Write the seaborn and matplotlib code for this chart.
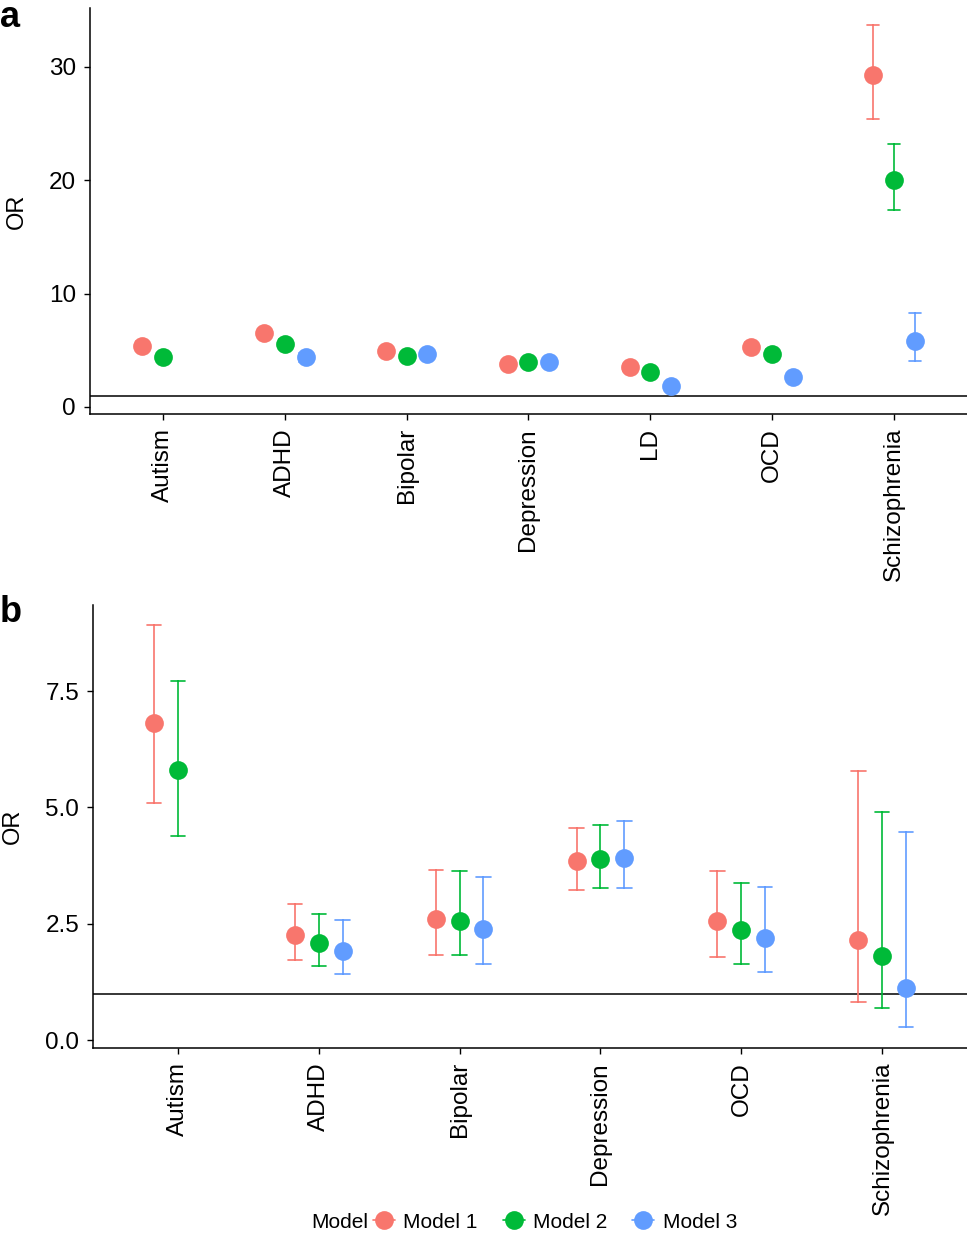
"""
Odds ratios by disorder for three models (panels a and b).
"""

import numpy as np
import pandas as pd
import matplotlib
matplotlib.use("Agg")
import matplotlib.pyplot as plt
from matplotlib.lines import Line2D
import seaborn as sns

# ---- data -------------------------------------------------------------
models = ["Model 1", "Model 2", "Model 3"]
colors = ["#F8766D", "#00BA38", "#619CFF"]

# panel a
disorders_a = ["Autism", "ADHD", "Bipolar", "Depression", "LD", "OCD", "Schizophrenia"]
or_a_m1 = [5.4, 6.5, 4.9, 3.8, 3.5, 5.3, 29.3]
lo_a_m1 = [5.0, 6.1, 4.6, 3.6, 3.2, 4.9, 25.4]
hi_a_m1 = [5.8, 6.9, 5.3, 4.0, 3.8, 5.7, 33.7]
or_a_m2 = [4.4, 5.6, 4.5, 3.95, 3.1, 4.7, 20.0]
lo_a_m2 = [4.1, 5.2, 4.2, 3.75, 2.8, 4.3, 17.4]
hi_a_m2 = [4.7, 6.0, 4.8, 4.15, 3.4, 5.1, 23.2]
or_a_m3 = [np.nan, 4.4, 4.7, 3.95, 1.85, 2.65, 5.8]
lo_a_m3 = [np.nan, 4.0, 4.4, 3.75, 1.6, 2.3, 4.1]
hi_a_m3 = [np.nan, 4.8, 5.0, 4.15, 2.1, 3.0, 8.3]

# panel b
disorders_b = ["Autism", "ADHD", "Bipolar", "Depression", "OCD", "Schizophrenia"]
or_b_m1 = [6.82, 2.26, 2.60, 3.85, 2.56, 2.15]
lo_b_m1 = [5.10, 1.72, 1.83, 3.23, 1.78, 0.82]
hi_b_m1 = [8.92, 2.92, 3.66, 4.56, 3.63, 5.78]
or_b_m2 = [5.81, 2.09, 2.56, 3.89, 2.37, 1.81]
lo_b_m2 = [4.39, 1.59, 1.83, 3.27, 1.63, 0.69]
hi_b_m2 = [7.72, 2.71, 3.63, 4.62, 3.38, 4.90]
or_b_m3 = [np.nan, 1.91, 2.39, 3.91, 2.19, 1.12]
lo_b_m3 = [np.nan, 1.42, 1.63, 3.27, 1.46, 0.28]
hi_b_m3 = [np.nan, 2.58, 3.50, 4.71, 3.29, 4.47]


def long_frame(disorders, series):
    """Three rows (lo, OR, hi) per disorder/model so that median = OR and
    min/max = confidence interval."""
    rows = []
    for model, (ors, los, his) in zip(models, series):
        for d, o, l, h in zip(disorders, ors, los, his):
            if np.isnan(o):
                continue
            for v in (l, o, h):
                rows.append({"Disorder": d, "Model": model, "OR": v})
    return pd.DataFrame(rows)


df_a = long_frame(disorders_a, [(or_a_m1, lo_a_m1, hi_a_m1),
                                (or_a_m2, lo_a_m2, hi_a_m2),
                                (or_a_m3, lo_a_m3, hi_a_m3)])
df_b = long_frame(disorders_b, [(or_b_m1, lo_b_m1, hi_b_m1),
                                (or_b_m2, lo_b_m2, hi_b_m2),
                                (or_b_m3, lo_b_m3, hi_b_m3)])

# ---- style ------------------------------------------------------------
sns.set_theme(style="ticks")
plt.rcParams["font.family"] = ["Liberation Sans", "DejaVu Sans"]
plt.rcParams["text.color"] = "black"
plt.rcParams["axes.labelcolor"] = "black"

fig = plt.figure(figsize=(9.67, 12.34), dpi=100)
ax_a = fig.add_axes([0.093, 0.6645, 0.907, 0.329])
ax_b = fig.add_axes([0.0962, 0.1507, 0.9038, 0.359])


def draw_panel(ax, data, order, ylim, yticks, yticklabels):
    sns.pointplot(
        data=data, x="Disorder", y="OR", hue="Model",
        order=order, hue_order=models, palette=colors,
        estimator="median", errorbar=lambda v: (v.min(), v.max()),
        dodge=0.34, linestyle="none", markers="o",
        markersize=13.5, markeredgewidth=0,
        capsize=0.1, err_kws={"linewidth": 1.2},
        legend=False, ax=ax,
    )
    ax.axhline(1, color="black", linewidth=1.1, zorder=0)
    ax.set_xlim(-0.6, len(order) - 0.4)
    ax.set_ylim(*ylim)
    ax.set_yticks(yticks)
    ax.set_yticklabels(yticklabels)
    ax.set_xlabel("")
    ax.set_ylabel("OR", fontsize=17, labelpad=15, color="black")
    ax.tick_params(axis="y", labelsize=17.5, length=4, width=1.0,
                   color="black", labelcolor="black", pad=6)
    ax.tick_params(axis="x", labelsize=17.5, length=4, width=1.0,
                   color="black", labelcolor="black", pad=6)
    plt.setp(ax.get_xticklabels(), rotation=90, ha="center", va="top")
    for side in ("left", "bottom"):
        ax.spines[side].set_linewidth(1.1)
        ax.spines[side].set_color("black")
    sns.despine(ax=ax)


draw_panel(ax_a, df_a, disorders_a, (-0.62, 35.2), [0, 10, 20, 30],
           ["0", "10", "20", "30"])
draw_panel(ax_b, df_b, disorders_b, (-0.17, 9.35), [0, 2.5, 5.0, 7.5],
           ["0.0", "2.5", "5.0", "7.5"])

# panel letters
fig.text(0.0, 0.986, "a", fontsize=26, fontweight="bold", va="center")
fig.text(0.0, 0.504, "b", fontsize=26, fontweight="bold", va="center")

# legend at the bottom
handles = [Line2D([], [], color=c, marker="o", markersize=13.5,
                  markeredgewidth=0, linewidth=1.2) for c in colors]
fig.text(0.322, 1 - 1222 / 1234, "Model", fontsize=15, va="center")
fig.legend(handles, models, loc="center left",
           bbox_to_anchor=(0.386, 1 - 1222 / 1234), ncol=3, frameon=False,
           fontsize=15, handlelength=1.05, handletextpad=0.4,
           columnspacing=1.2, borderaxespad=0, borderpad=0)

fig.savefig("out.png", dpi=100)
plt.close(fig)
